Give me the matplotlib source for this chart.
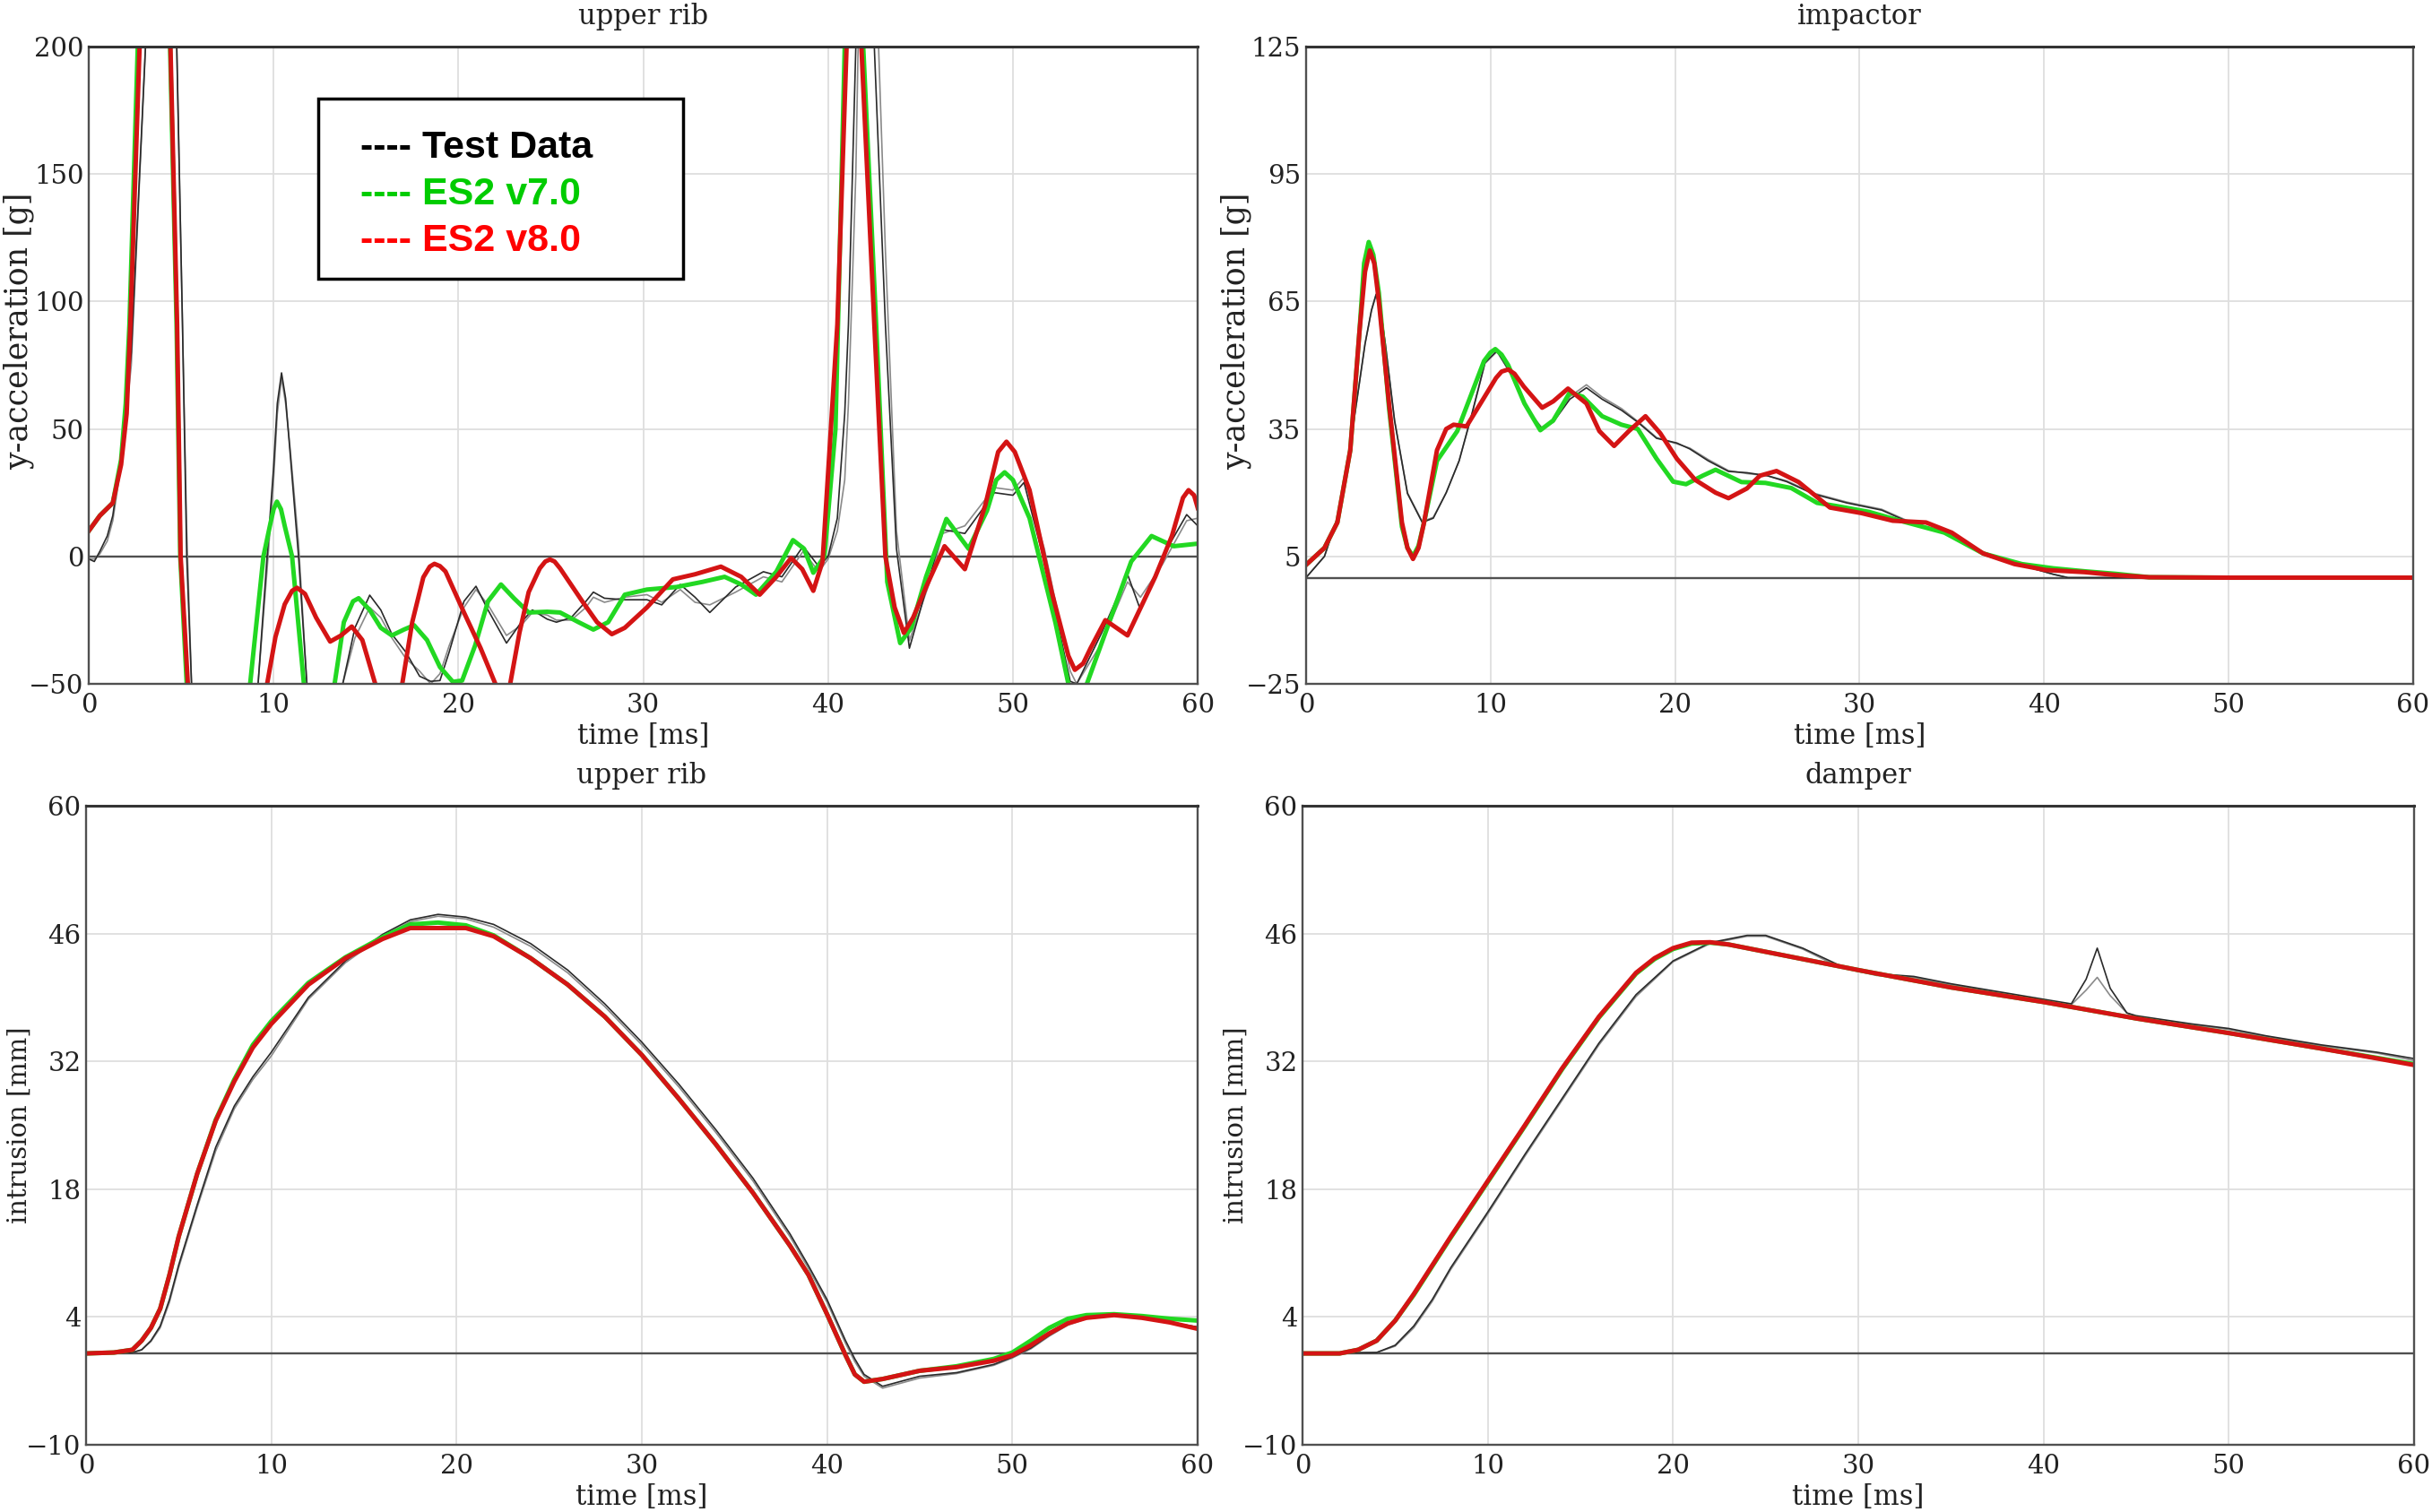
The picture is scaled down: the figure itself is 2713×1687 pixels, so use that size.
import matplotlib
matplotlib.use('Agg')
import matplotlib.pyplot as plt
from matplotlib.patches import Rectangle

plt.rcParams['font.family'] = 'DejaVu Serif'

# ---------------- upper rib, y-acceleration [g] ----------------
rib_acc_t_red = [0, 0.6, 1.3, 1.75, 2.05, 2.25, 2.75, 3.6, 4.42, 4.78,
                 4.97, 5.36, 7.5, 9.65, 10.1, 10.6, 11.0, 11.27, 11.7, 12.3,
                 13.06, 13.65, 14.23, 14.8, 15.5, 16.2, 16.96, 17.5, 18.1, 18.45,
                 18.7, 19.0, 19.3, 20.3, 21.2, 22.0, 22.4, 22.8, 23.3, 23.8,
                 24.4, 24.7, 24.95, 25.2, 25.5, 26.7, 27.5, 28.3, 29.0, 30.2,
                 31.6, 32.8, 34.2, 35.3, 36.3, 37.2, 38.0, 38.6, 39.2, 39.7,
                 40.2, 40.5, 41.0, 41.4, 41.8, 42.5, 43.1, 43.6, 44.1, 44.6,
                 45.3, 46.3, 47.4, 48.5, 49.2, 49.65, 50.1, 50.9, 52.1, 53.0,
                 53.35, 53.8, 54.2, 55.0, 56.2, 57.7, 58.6, 59.2, 59.5, 59.8,
                 60]
rib_acc_red = [10, 16, 21, 36, 56, 91, 200, 420, 200, 91,
               0, -50, -130, -50, -31.6, -18.8, -13.5, -12.3, -14.7, -24,
               -33.4, -31, -27.5, -32.8, -50, -65, -50, -25.8, -8.2, -4,
               -2.9, -3.8, -5.9, -22, -36, -50, -58, -50, -30, -14,
               -4.7, -2, -1.2, -2, -4.7, -17.6, -25.8, -30.5, -28, -20,
               -9, -7, -4, -8, -15, -8, -0.6, -5, -13.5, -2,
               56, 91, 200, 300, 200, 91, 0, -20, -30, -24,
               -12, 4, -5, 20, 41, 45, 41, 26, -14, -39,
               -44.5, -42, -36, -25, -31, -8, 8, 23, 26, 24,
               19]

rib_acc_t_green = [0, 0.6, 1.3, 1.75, 2.0, 2.2, 2.65, 3.5, 4.4, 4.75,
                   4.95, 5.3, 7.0, 8.73, 9.45, 9.8, 10.0, 10.18, 10.4, 10.6,
                   11.0, 11.64, 12.5, 13.3, 13.8, 14.3, 14.6, 15.2, 15.8, 16.4,
                   17.05, 17.6, 18.3, 19.0, 19.7, 20.2, 20.9, 21.6, 22.3, 23.0,
                   23.8, 24.8, 25.5, 26.5, 27.3, 28.1, 29.0, 30.2, 31.8, 33.2,
                   34.4, 35.3, 36.1, 37.2, 38.1, 38.7, 39.2, 39.8, 40.4, 40.9,
                   41.4, 41.9, 42.6, 43.2, 43.9, 44.5, 45.3, 46.4, 47.6, 48.6,
                   49.1, 49.55, 50.0, 50.9, 52.3, 53.0, 53.5, 54.0, 55.2, 56.4,
                   57.5, 58.7, 60]
rib_acc_green = [10, 16, 21, 38, 60, 91, 200, 420, 200, 91,
                 0, -50, -120, -50, 0, 12, 18.5, 21.5, 18.5, 12,
                 0, -50, -60, -50, -25.8, -17.6, -16.4, -21, -28, -31,
                 -28.7, -27, -32.8, -43.4, -49.2, -48.7, -35, -17.6, -11, -16.4,
                 -22, -21.7, -22, -25.8, -28.7, -25.8, -15, -13, -12, -10,
                 -8, -11, -15, -6, 6.4, 3, -6.4, 0, 50, 200,
                 300, 200, 91, -10, -34, -28, -8, 14.7, 3, 18,
                 30, 33, 30, 15, -26, -50, -55, -50, -26, -2,
                 8, 4, 5]

rib_acc_t_test = [0, 0.3, 0.6, 1.0, 1.3, 1.75, 2.3, 3.07, 3.9, 4.76,
                  5.07, 5.3, 5.56, 7.5, 9.16, 9.65, 10.0, 10.2, 10.43, 10.65,
                  10.9, 11.35, 11.8, 12.7, 13.74, 14.4, 15.2, 15.8, 16.4, 17.15,
                  17.9, 18.5, 19.0, 19.5, 20.3, 20.95, 21.6, 22.6, 23.4, 24.0,
                  24.8, 25.3, 26.1, 26.9, 27.3, 27.9, 29.0, 30.2, 31.0, 32.0,
                  32.8, 33.6, 35.0, 36.5, 37.5, 38.65, 39.5, 40.0, 40.5, 40.9,
                  41.1, 41.5, 42.0, 42.5, 43.1, 43.7, 44.4, 45.5, 46.2, 47.4,
                  49.0, 50.0, 50.6, 51.7, 53.1, 53.45, 54.8, 56.2, 56.9, 58.1,
                  59.4, 60]
rib_acc_test_a = [-1, -2, 2, 8, 16, 39, 80, 200, 400, 200,
                  91, 0, -50, -120, -50, 0, 35, 60, 72, 62,
                  40, 0, -50, -70, -50, -28, -15.2, -21, -30.5, -37.5,
                  -47, -49, -48.7, -37.5, -17.6, -11.7, -21, -34, -25.8, -21,
                  -24.6, -25.8, -24, -17.6, -14, -16.4, -17, -17, -19, -11,
                  -16, -22, -12, -6, -8, 4, -4, 0, 15, 56,
                  91, 200, 350, 200, 91, 3, -36, -8, 10.5, 9,
                  25, 24, 29, -2, -49, -50, -30, -7, -21, 0,
                  16.4, 12]
rib_acc_test_b = [-1, -1, 1, 6, 14, 36, 75, 200, 400, 200,
                  91, 10, -50, -120, -50, -5, 30, 56, 70, 60,
                  42, 5, -50, -70, -50, -32, -20, -24, -32, -40,
                  -45, -50, -46, -35, -20, -13, -19, -31, -27, -22,
                  -23, -25, -25, -20, -16, -18, -16, -15, -18, -13,
                  -18, -19, -14, -8, -10, 2, -6, -1, 10, 30,
                  60, 150, 350, 250, 120, 10, -33, -10, 9, 12,
                  27, 26, 31, 3, -45, -50, -34, -10, -16, -3,
                  14, 15]

# ---------------- impactor, y-acceleration [g] ----------------
imp_t_red = [0, 1.0, 1.7, 2.4, 2.9, 3.2, 3.46, 3.7, 3.95, 4.5,
             5.2, 5.5, 5.8, 6.1, 6.4, 7.1, 7.6, 8.0, 8.7, 9.6,
             10.3, 10.6, 10.96, 11.3, 11.8, 12.8, 13.4, 14.2, 15.2, 15.9,
             16.7, 17.5, 18.4, 19.2, 20.1, 21.1, 22.2, 22.9, 23.9, 24.6,
             25.5, 26.7, 28.4, 30.1, 31.8, 33.6, 35.0, 36.7, 38.4, 40.1,
             42.2, 43.9, 45.7, 50, 55, 60]
imp_red = [3, 7, 13, 30, 58, 72, 77, 74, 65, 41,
           13, 7, 4.4, 7, 13, 30, 35, 36, 35.6, 42,
           47, 48.5, 49, 48, 45, 40, 41.5, 44.5, 41, 34.5,
           31, 34.5, 38, 34, 28, 23, 20, 18.7, 21, 24,
           25.1, 22.5, 16.5, 15.2, 13.4, 13, 10.6, 5.7, 3.2, 1.8,
           1.3, 0.6, 0.1, 0, 0, 0]

imp_t_green = [0, 1.0, 1.7, 2.4, 2.9, 3.15, 3.4, 3.65, 3.95, 4.5,
               5.2, 5.5, 5.8, 6.1, 6.4, 7.1, 8.2, 9.0, 9.65, 10.0,
               10.26, 10.6, 10.96, 11.84, 12.7, 13.4, 14.3, 15.0, 16.05, 17.1,
               17.98, 19.0, 19.9, 20.6, 21.5, 22.2, 23.6, 24.9, 26.3, 27.7,
               28.7, 30.5, 32.2, 34.6, 36.7, 38.8, 40.5, 42.2, 43.9, 45.7,
               50, 55, 60]
imp_green = [3, 7, 13, 30, 58, 74, 79, 76, 67, 40,
             12, 7, 5, 7.5, 13, 27.5, 34.5, 43.6, 51, 53,
             53.8, 52.5, 50, 41, 34.7, 37, 43.6, 42.6, 38, 36,
             35, 28, 22.6, 22, 24, 25.4, 22.5, 22.3, 21.1, 17.6,
             16.9, 15.5, 13.4, 10.6, 5.7, 3.2, 2.2, 1.5, 0.9, 0.1,
             0, 0, 0]

imp_t_test = [0, 1.0, 1.85, 2.5, 3.2, 3.55, 3.8, 4.05, 4.3, 4.8,
              5.5, 6.3, 6.9, 7.6, 8.3, 9.0, 9.7, 10.35, 11.1, 12.0,
              12.8, 13.4, 14.3, 15.2, 16.05, 17.1, 17.98, 19.0, 20.1, 20.8,
              21.8, 22.9, 23.9, 25.0, 26.05, 27.5, 29.3, 31.2, 32.5, 34.6,
              36.7, 38.8, 40.5, 41.3, 45, 50, 55, 60]
imp_test_a = [0, 5, 16, 34, 55, 63, 66.7, 63, 55, 37,
              19.8, 13, 14, 20, 27.5, 38.7, 50.6, 53.4, 48, 39.4,
              35, 36.6, 42, 44.7, 42, 39.4, 36.6, 32.8, 31.7, 30.3,
              27.5, 25, 24.7, 24, 22.6, 19.7, 17.6, 15.9, 13.4, 10.6,
              6, 2.9, 0.8, 0, 0, 0, 0, 0]
imp_test_b = [0, 5, 16, 34, 55, 62.8, 66.5, 62.8, 55, 37,
              20, 13.2, 14.2, 20, 27.5, 38.5, 50.4, 53.2, 48, 39.6,
              35.2, 37, 42.6, 45.4, 42.5, 39.8, 36.8, 33, 31.5, 30.5,
              27.8, 25.2, 24.5, 24, 22.8, 19.9, 17.8, 16.1, 13.6, 10.6,
              6, 2.9, 0.8, 0, 0, 0, 0, 0]

# ---------------- upper rib, intrusion [mm] ----------------
rib_int_t = [0, 1.5, 2.5, 3, 3.5, 4, 4.5, 5, 6, 7, 8, 9, 10, 12, 14, 16, 17.5, 19, 20.5,
             22, 24, 26, 28, 30, 32, 34, 36, 38, 39, 40, 41, 41.5, 42, 43, 45, 47, 49,
             50, 51, 52, 53, 54, 55.5, 57, 58.5, 60]
rib_int_red = [0, 0.1, 0.4, 1.4, 2.8, 4.9, 8.6, 12.8, 19.7, 25.5, 29.8, 33.5, 36.1, 40.4,
               43.3, 45.4, 46.6, 46.6, 46.6, 45.7, 43.3, 40.4, 36.9, 32.7, 27.9, 22.9,
               17.6, 11.8, 8.6, 4.3, -0.2, -2.3, -3.1, -2.8, -1.9, -1.5, -0.8, -0.2, 0.9,
               2.2, 3.3, 3.9, 4.2, 3.9, 3.4, 2.7]
rib_int_green = [0, 0.1, 0.4, 1.4, 2.8, 4.9, 8.6, 12.8, 19.7, 25.6, 30.0, 33.8, 36.4, 40.6,
                 43.4, 45.6, 47.0, 47.2, 46.9, 45.8, 43.3, 40.4, 36.9, 32.7, 27.9, 22.9,
                 17.6, 11.8, 8.6, 4.3, -0.2, -2.3, -3.1, -2.8, -1.9, -1.4, -0.6, 0.1, 1.4,
                 2.8, 3.8, 4.2, 4.3, 4.1, 3.8, 3.6]
rib_int_test_a = [0, 0, 0.1, 0.4, 1.4, 3, 5.9, 9.7, 16.3, 22.6, 27.1, 30.3, 33, 39,
                  43, 45.9, 47.5, 48.1, 47.8, 47, 44.9, 42, 38.3, 34.1, 29.5, 24.5,
                  19.2, 13.1, 9.6, 5.9, 1.4, -0.6, -2.3, -3.6, -2.5, -2.1, -1.2, -0.4, 0.6,
                  2, 3.2, 3.9, 4.2, 3.9, 3.4, 2.9]
rib_int_test_b = [0, 0, 0.1, 0.4, 1.3, 2.8, 5.6, 9.4, 16.0, 22.2, 26.8, 30.0, 32.6, 38.8,
                  42.8, 45.7, 47.3, 47.9, 47.6, 46.7, 44.6, 41.7, 38.0, 33.8, 29.2, 24.2,
                  18.9, 12.8, 9.3, 5.6, 1.1, -0.9, -2.5, -3.8, -2.7, -2.2, -1.3, -0.5, 0.5,
                  1.9, 3.1, 3.8, 4.1, 3.9, 3.4, 2.9]

# ---------------- damper, intrusion [mm] ----------------
dmp_t_model = [0, 2, 3, 4, 5, 6, 8, 10, 12, 14, 16, 18, 19, 20, 21, 22, 23, 24, 26, 30,
               35, 40, 45, 50, 55, 60]
dmp_red = [0, 0, 0.4, 1.4, 3.6, 6.5, 12.8, 18.9, 25, 31.2, 36.9, 41.7, 43.3, 44.4, 45,
           45.05, 44.8, 44.4, 43.6, 42, 40.1, 38.5, 36.7, 35.1, 33.4, 31.6]
dmp_green = [0, 0, 0.4, 1.4, 3.6, 6.4, 12.7, 18.8, 24.9, 31.1, 36.8, 41.6, 43.2, 44.3,
             44.9, 45, 44.8, 44.4, 43.6, 42, 40.1, 38.5, 36.7, 35.1, 33.4, 31.7]

dmp_t_test = [0, 4, 5, 6, 7, 8, 10, 12, 14, 16, 18, 20, 22, 24, 25, 27, 29, 31, 33, 35,
              40, 41.5, 42.3, 42.9, 43.6, 44.5, 45, 48, 50, 52, 55, 58, 60]
dmp_test_a = [0, 0.1, 0.9, 3, 5.9, 9.4, 15.5, 21.8, 27.9, 34, 39.3, 43, 45, 45.8, 45.8,
              44.4, 42.5, 41.6, 41.3, 40.5, 38.8, 38.3, 41, 44.4, 40, 37.3, 37, 36.1,
              35.6, 34.8, 33.8, 33, 32.3]
dmp_test_b = [0, 0.1, 0.8, 2.8, 5.7, 9.2, 15.3, 21.6, 27.7, 33.8, 39.1, 42.9, 44.9, 45.7,
              45.7, 44.3, 42.3, 41.4, 41.2, 40.4, 38.7, 38.2, 39.8, 41.2, 39.2, 37.3, 36.9,
              36.0, 35.5, 34.7, 33.7, 32.9, 32.1]

# axis settings per panel
panel_titles = ['upper rib', 'impactor', 'upper rib', 'damper']
panel_ylabels = ['y-acceleration [g]', 'y-acceleration [g]', 'intrusion [mm]', 'intrusion [mm]']
panel_yticks = [[-50, 0, 50, 100, 150, 200],
                [-25, 5, 35, 65, 95, 125],
                [-10, 4, 18, 32, 46, 60],
                [-10, 4, 18, 32, 46, 60]]
x_ticks = [0, 10, 20, 30, 40, 50, 60]

legend_labels = ['---- Test Data', '---- ES2 v7.0', '---- ES2 v8.0']
legend_colors = ['#000000', '#00cc00', '#ff0000']

TEST_A = '#2a2a2a'
TEST_B = '#8a8a8a'
GREEN = '#22d822'
RED = '#d41414'


def style_axis(ax, title, ylabel, yticks, ylabel_size, ylabel_y):
    ax.set_xlim(0, 60)
    ax.set_ylim(yticks[0], yticks[-1])
    ax.set_xticks(x_ticks)
    ax.set_yticks(yticks)
    ax.grid(True, color='#dedede', linewidth=1.3)
    ax.set_axisbelow(True)
    ax.axhline(0, color='#505050', linewidth=1.7, zorder=1.5)
    ax.tick_params(length=0, labelsize=21, colors='#222222', pad=4)
    ax.tick_params(axis='x', pad=7)
    for sp in ax.spines.values():
        sp.set_color('#505050')
        sp.set_linewidth(1.7)
    ax.spines['top'].set_color('#333333')
    ax.spines['top'].set_linewidth(2.2)
    ax.set_title(title, fontsize=22, pad=18, color='#222222')
    ax.set_xlabel('time [ms]', fontsize=22, labelpad=4, color='#222222')
    ax.set_ylabel(ylabel, fontsize=ylabel_size, color='#222222')
    ax.yaxis.set_label_coords(-0.049, ylabel_y)


def draw_panel(ax, t_test, test_a, test_b, t_green, green, t_red, red):
    ax.plot(t_test, test_b, color=TEST_B, lw=1.2)
    ax.plot(t_test, test_a, color=TEST_A, lw=1.2)
    ax.plot(t_green, green, color=GREEN, lw=3.6, solid_joinstyle='round')
    ax.plot(t_red, red, color=RED, lw=3.6, solid_joinstyle='round')


fig = plt.figure(figsize=(27.13, 16.87), dpi=100)
ax1 = fig.add_axes([0.0365, 0.5477, 0.4560, 0.4215])
ax2 = fig.add_axes([0.5370, 0.5477, 0.4552, 0.4215])
ax3 = fig.add_axes([0.0354, 0.0445, 0.4570, 0.4226])
ax4 = fig.add_axes([0.5356, 0.0445, 0.4570, 0.4226])

draw_panel(ax1, rib_acc_t_test, rib_acc_test_a, rib_acc_test_b,
           rib_acc_t_green, rib_acc_green, rib_acc_t_red, rib_acc_red)
draw_panel(ax2, imp_t_test, imp_test_a, imp_test_b,
           imp_t_green, imp_green, imp_t_red, imp_red)
draw_panel(ax3, rib_int_t, rib_int_test_a, rib_int_test_b,
           rib_int_t, rib_int_green, rib_int_t, rib_int_red)
draw_panel(ax4, dmp_t_test, dmp_test_a, dmp_test_b,
           dmp_t_model, dmp_green, dmp_t_model, dmp_red)

for ax, title, ylabel, yticks in zip([ax1, ax2, ax3, ax4], panel_titles, panel_ylabels, panel_yticks):
    if 'acceleration' in ylabel:
        style_axis(ax, title, ylabel, yticks, 25, 0.553)
    else:
        style_axis(ax, title, ylabel, yticks, 21, 0.5)

# text legend in a black box
fig.patches.append(Rectangle((0.1309, 0.8157), 0.1500, 0.1191, transform=fig.transFigure,
                             facecolor='white', edgecolor='black', linewidth=2.5, zorder=5))
legend_y = [0.8957, 0.8648, 0.8340]
for label, color, y in zip(legend_labels, legend_colors, legend_y):
    fig.text(0.1482, y, label, color=color, fontsize=31, fontweight='bold',
             family=['Liberation Sans', 'DejaVu Sans'], va='baseline', zorder=6)

fig.savefig('out.png', dpi=100)
